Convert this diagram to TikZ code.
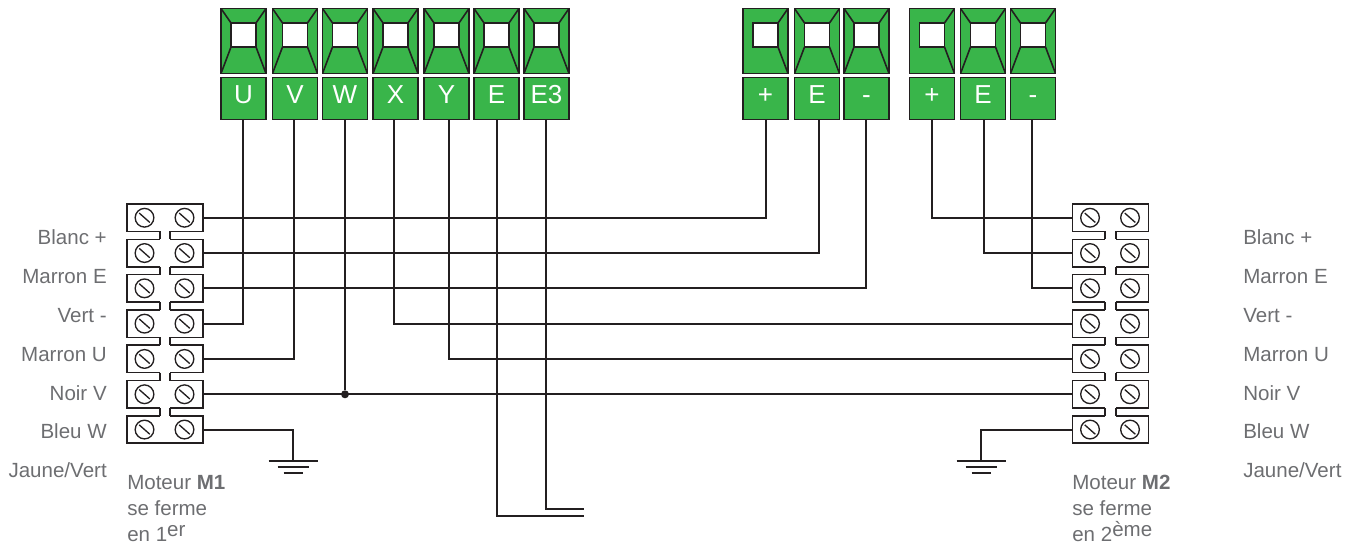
\documentclass[tikz,border=0pt]{standalone}
\usepackage{fontspec}
\setmainfont{Liberation Sans}
\usepackage{tikz}
\definecolor{termgreen}{HTML}{39B54A}
\definecolor{wiredark}{HTML}{231F20}
\definecolor{labelgrey}{HTML}{6D6E71}
\newcommand{\capright}{
	\draw (-12.5,-18) rectangle (12.5,6);
	\draw (22.5,-32.5) -- (12.5,-18);
	\draw (22.5,32.5) -- (12.5,6);
}
\newcommand{\capleft}{
	\draw (-22.5,-32.5) -- (-12.5,-18);
	\draw (-22.5,32.5) -- (-12.5,6);
}
\tikzstyle{capfull}=[rectangle,draw=wiredark,fill=termgreen,line width=1.2pt,inner sep=0pt,minimum width=33.75pt,minimum height=48.75pt,
	path picture={\begin{scope}[shift={(path picture bounding box.center)}]\fill[white] (-12.5,-18) rectangle (12.5,6);\capright\capleft\end{scope}}]
\tikzstyle{capopen}=[rectangle,draw=wiredark,fill=termgreen,line width=1.2pt,inner sep=0pt,minimum width=33.75pt,minimum height=48.75pt,
	path picture={\begin{scope}[shift={(path picture bounding box.center)}]\fill[white] (-12.5,-18) rectangle (12.5,6);\capright\end{scope}}]
\tikzstyle{termlabel}=[rectangle,draw=wiredark,fill=termgreen,text=white,line width=1.2pt,inner sep=0pt,minimum width=33.75pt,minimum height=31.5pt,
	text height=14pt,text depth=5.75pt,font=\fontsize{19.5}{20}\selectfont]
\tikzstyle{rowbox}=[rectangle,draw=wiredark,fill=white,line width=1.2pt,inner sep=0pt,minimum width=57pt,minimum height=20.6pt]
\tikzstyle{screw}=[circle,draw=wiredark,fill=white,line width=1pt,inner sep=0pt,minimum size=14pt,
	path picture={\draw[line width=1pt] ([shift={(-5.3,-4.7)}]path picture bounding box.center) -- ([shift={(5.3,4.7)}]path picture bounding box.center);}]
\tikzstyle{wirelabel}=[inner sep=0pt,text=labelgrey,font=\fontsize{15.4}{18}\selectfont]
\tikzstyle{wire}=[draw=wiredark,line width=1.5pt]

\begin{document}
\begin{tikzpicture}[x=0.75pt,y=-0.75pt]
	\useasboundingbox (0,0) rectangle (1358,548);
	\foreach \name/\xpos/\wx/\type/\txt in {U/243.5/243/capfull/U,V/295/293.7/capfull/V,W/345/345/capfull/W,X/395.5/394/capfull/X,Y/446.5/449/capfull/Y,E/496.5/496.5/capfull/E,Ethree/546.5/546/capfull/E3,
		plusa/765.5/766/capopen/+,Ea/817/818.5/capfull/E,minusa/866.5/866/capfull/-,plusb/932/931.5/capopen/+,Eb/983/984/capfull/E,minusb/1033/1031.5/capfull/-}{
		\node at (\xpos,41) [\type] (cap\name) {};
		\node at (\xpos,98.5) [termlabel] (\name) {\txt};
		\coordinate (w\name) at (\wx,120);
	}
	\foreach \side/\xpos in {l/165,r/1110.5}{
		\foreach \row in {1,...,7}{
			\pgfmathsetmacro{\ypos}{217.75+35.3*(\row-1)}
			\node at (\xpos,\ypos) [rowbox] (\side\row) {};
			\node at (\xpos-20.5,\ypos) [screw] (\side\row a) {};
			\node at (\xpos+19.5,\ypos) [screw] (\side\row b) {};
		}
		\foreach \row in {1,...,6}{
			\pgfmathsetmacro{\ypos}{217.75+35.3*(\row-1)+13.75}
			\fill[white] (\xpos-5.3,\ypos-1.5) rectangle (\xpos+5.3,\ypos+9.3);
			\draw[wire] (\xpos-5.3,\ypos) -- (\xpos-5.3,\ypos+7.8);
			\draw[wire] (\xpos+5.3,\ypos) -- (\xpos+5.3,\ypos+7.8);
		}
	}
	\node at (345,394.3) [circle,fill=wiredark,inner sep=0pt,minimum size=6pt] (jn) {};
	\coordinate (endE) at (583.5,515.7);
	\coordinate (endEthree) at (583.5,509.3);
	\coordinate (gndl) at (293,460.5);
	\coordinate (gndr) at (981,460.5);
	\draw[wire] (wU) |- (l4.east);
	\draw[wire] (wV) |- (l5.east);
	\draw[wire] (wW) -- (jn);
	\draw[wire] (l6.east) -- (r6.west);
	\draw[wire] (wX) |- (r4.west);
	\draw[wire] (wY) |- (r5.west);
	\draw[wire] (wE) |- (endE);
	\draw[wire] (wEthree) |- (endEthree);
	\draw[wire] (wplusa) |- (l1.east);
	\draw[wire] (wEa) |- (l2.east);
	\draw[wire] (wminusa) |- (l3.east);
	\draw[wire] (wplusb) |- (r1.west);
	\draw[wire] (wEb) |- (r2.west);
	\draw[wire] (wminusb) |- (r3.west);
	\draw[wire] (l7.east) -| (gndl);
	\draw[wire] (r7.west) -| (gndr);
	\foreach \gx in {293,981}{
		\draw[wire] (\gx-24.5,460.5) -- (\gx+24.5,460.5);
		\draw[wire] (\gx-15.5,466.5) -- (\gx+15.5,466.5);
		\draw[wire] (\gx-9.5,472.5) -- (\gx+9.5,472.5);
	}
	\foreach \i/\ypos/\txt in {1/245/Blanc +,2/284/Marron E,3/322.5/Vert -,4/361.5/Marron U,5/400/Noir V,6/438/Bleu W,7/477.5/{Jaune/Vert}}{
		\node at (107,\ypos) [wirelabel,anchor=base east] (labl\i) {\txt};
		\node at (1243,\ypos) [wirelabel,anchor=base west] (labr\i) {\txt};
	}
	\node at (127,489) [wirelabel,anchor=base west] (mota) {Moteur \textbf{M1}};
	\node at (127,515) [wirelabel,anchor=base west] (sea) {se ferme};
	\node at (127,541.5) [wirelabel,anchor=base west] (ena) {en 1\raisebox{3.75pt}{er}};
	\node at (1072,489) [wirelabel,anchor=base west] (motb) {Moteur \textbf{M2}};
	\node at (1072,515) [wirelabel,anchor=base west] (seb) {se ferme};
	\node at (1072,541.5) [wirelabel,anchor=base west] (enb) {en 2\raisebox{3.75pt}{ème}};
\end{tikzpicture}
\end{document}
